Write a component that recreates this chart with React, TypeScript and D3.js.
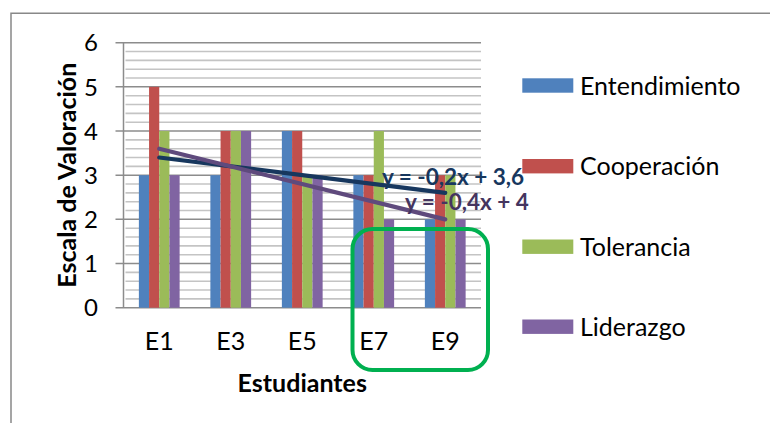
import React from 'react';
import * as d3 from 'd3';

const categories = ['E1', 'E3', 'E5', 'E7', 'E9'];
const seriesNames = ['Entendimiento', 'Cooperación', 'Tolerancia', 'Liderazgo'];
const entendimiento = [3, 3, 4, 3, 2];
const cooperacion = [5, 4, 4, 3, 3];
const tolerancia = [4, 4, 3, 4, 3];
const liderazgo = [3, 4, 3, 2, 2];
const yTicks = [0, 1, 2, 3, 4, 5, 6];
const trendLabels = ['y = -0,2x + 3,6', 'y = -0,4x + 4'];

const seriesValues = [entendimiento, cooperacion, tolerancia, liderazgo];
const colors = ['#4F81BD', '#C0504D', '#9BBB59', '#8064A2'];
const trendColors = ['#17375E', '#5F4A7D'];
const trendLabelColors = ['#17375E', '#45355F'];
const FONT = 'Lato, "Open Sans", sans-serif';

function linReg(vals: number[]) {
  const n = vals.length;
  const xs = vals.map((_, i) => i + 1);
  const mx = d3.mean(xs) as number;
  const my = d3.mean(vals) as number;
  let num = 0, den = 0;
  xs.forEach((x, i) => { num += (x - mx) * (vals[i] - my); den += (x - mx) ** 2; });
  const m = num / den;
  return { m, b: my - m * mx, n };
}

export default function App() {
  const W = 770, H = 423;
  const x0 = 123.5, x1 = 481, yTop = 42.7, yBot = 307.7;
  const x = d3.scaleBand<string>().domain(categories).range([x0, x1]).padding(0);
  const y = d3.scaleLinear().domain([0, 6]).range([yBot, yTop]);
  const bw = x.bandwidth();
  const clusterW = bw * 0.57;
  const inner = d3.scaleBand<number>().domain([0, 1, 2, 3]).range([(bw - clusterW) / 2, (bw + clusterW) / 2]).padding(0);
  const minorTicks = d3.range(0, 6.0001, 0.2).filter(v => Math.abs(v - Math.round(v)) > 0.01);
  const center = (c: string) => (x(c) as number) + bw / 2;

  const trends = [
    { vals: entendimiento, color: trendColors[0], lcolor: trendLabelColors[0], label: trendLabels[0], lx: 382, ly: 185 },
    { vals: liderazgo, color: trendColors[1], lcolor: trendLabelColors[1], label: trendLabels[1], lx: 405, ly: 209.5 },
  ];

  const legendY = [85.5, 166.2, 246.7, 326.7];

  return (
    <svg width={W} height={H} style={{ position: 'absolute', left: 0, top: 0, background: '#fff' }} fontFamily={FONT}>
      <rect x={0} y={0} width={W} height={H} fill="#fff" />
      {/* outer border */}
      <path d={`M11,${H + 5} L11,13.3 L${W + 5},13.3`} fill="none" stroke="#888" strokeWidth={1.5} />
      {/* minor gridlines */}
      {minorTicks.map((v, i) => (
        <line key={'m' + i} x1={x0 + 2} x2={x1} y1={y(v)} y2={y(v)} stroke="#C4C4C4" strokeWidth={1.6} />
      ))}
      {/* major gridlines */}
      {yTicks.map(v => (
        <line key={'g' + v} x1={x0 - 8} x2={x1} y1={y(v)} y2={y(v)} stroke="#8C8C8C" strokeWidth={1.5} />
      ))}
      {/* y axis */}
      <line x1={x0} x2={x0} y1={yTop} y2={yBot} stroke="#8C8C8C" strokeWidth={1.5} />
      {/* bars */}
      {categories.map((c, ci) => (
        <g key={c}>
          {seriesValues.map((vals, si) => (
            <rect key={si} x={(x(c) as number) + (inner(si) as number)} y={y(vals[ci])} width={inner.bandwidth()} height={yBot - y(vals[ci])} fill={colors[si]} />
          ))}
        </g>
      ))}
      {/* trendlines */}
      {trends.map((t, i) => {
        const r = linReg(t.vals);
        return (
          <line key={'t' + i} x1={center(categories[0])} y1={y(r.m * 1 + r.b)} x2={center(categories[categories.length - 1])} y2={y(r.m * r.n + r.b)} stroke={t.color} strokeWidth={4.2} strokeLinecap="round" />
        );
      })}
      {trends.map((t, i) => (
        <text key={'tl' + i} x={t.lx} y={t.ly} fill={t.lcolor} fontWeight="bold" fontSize={22.5}>{t.label}</text>
      ))}
      {/* y tick labels */}
      {yTicks.map(v => (
        <text key={'yl' + v} x={98} y={y(v)} dy="0.36em" textAnchor="end" fontSize={24} fill="#000">{v}</text>
      ))}
      {/* x tick labels */}
      {categories.map(c => (
        <text key={'xl' + c} x={center(c)} y={350} textAnchor="middle" fontSize={25} fill="#000">{c}</text>
      ))}
      {/* axis titles */}
      <text x={(x0 + x1) / 2} y={392} textAnchor="middle" fontSize={25} fontWeight="bold" fill="#000">Estudiantes</text>
      <text transform={`translate(76,${(yTop + yBot) / 2}) rotate(-90)`} textAnchor="middle" fontSize={25} fontWeight="bold" fill="#000">Escala de Valoración</text>
      {/* green highlight */}
      <rect x={(x('E7') as number) + 14.5} y={y(1.78)} width={(x('E9') as number) + bw + 7 - ((x('E7') as number) + 14.5)} height={370 - y(1.78)} rx={20} ry={20} fill="none" stroke="#00B050" strokeWidth={4} />
      {/* legend */}
      {seriesNames.map((n, i) => (
        <g key={n}>
          <rect x={522.3} y={legendY[i] - 7.2} width={51} height={14.4} fill={colors[i]} />
          <text x={580} y={legendY[i]} dy="0.36em" fontSize={25} fill="#000">{n}</text>
        </g>
      ))}
    </svg>
  );
}
